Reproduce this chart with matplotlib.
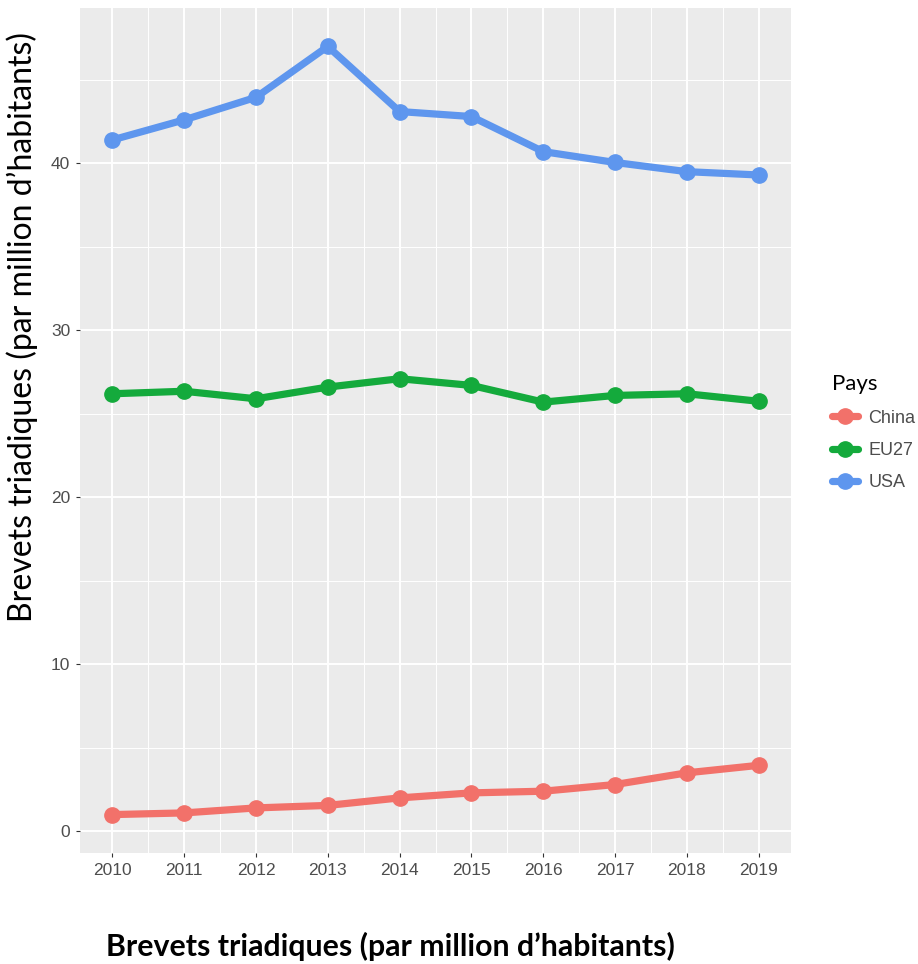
import matplotlib.pyplot as plt
import numpy as np

years = [2010, 2011, 2012, 2013, 2014, 2015, 2016, 2017, 2018, 2019]
y_china = [1.0, 1.1, 1.4, 1.55, 2.0, 2.3, 2.4, 2.8, 3.5, 3.95]
y_eu27 = [26.2, 26.35, 25.9, 26.6, 27.1, 26.7, 25.7, 26.1, 26.2, 25.75]
y_usa = [41.4, 42.6, 43.95, 47.0, 43.1, 42.8, 40.7, 40.05, 39.5, 39.3]
countries = ["China", "EU27", "USA"]
colors = ["#F2716A", "#14AA3C", "#5E96EE"]

fig = plt.figure(figsize=(9.18, 9.64), dpi=100)
ax = fig.add_axes([80 / 918, 1 - 853 / 964, 711 / 918, 845 / 964])
ax.set_facecolor("#EBEBEB")

for vals, name, c in zip([y_china, y_eu27, y_usa], countries, colors):
    ax.plot(years, vals, color=c, linewidth=5.2, marker="o",
            markersize=11, label=name, solid_capstyle="round")

# ggplot-like expansion (5%)
x0, x1 = min(years), max(years)
ax.set_xlim(x0 - 0.05 * (x1 - x0), x1 + 0.05 * (x1 - x0))
lo = min(y_china)
hi = max(y_usa)
ax.set_ylim(lo - 0.05 * (hi - lo), hi + 0.05 * (hi - lo))

ax.set_xticks(years)
ax.set_xticklabels([str(y) for y in years])
ax.set_xticks(np.array(years[:-1]) + 0.5, minor=True)
ax.set_yticks([0, 10, 20, 30, 40])
ax.set_yticks([5, 15, 25, 35, 45], minor=True)

ax.grid(which="major", color="white", linewidth=1.4)
ax.grid(which="minor", color="white", linewidth=0.7)
ax.set_axisbelow(True)
for s in ax.spines.values():
    s.set_visible(False)
ax.tick_params(which="major", length=3, color="#333333", labelcolor="#4D4D4D",
               labelsize=12.5, pad=4)
ax.tick_params(which="minor", length=0)
for lab in ax.get_xticklabels() + ax.get_yticklabels():
    lab.set_family("Liberation Sans")

fig.text(22 / 918, 1 - 327 / 964, "Brevets triadiques (par million d\u2019habitants)",
         rotation=90, ha="center", va="center", fontsize=23, family="Lato")
fig.text(390 / 918, 1 - 946 / 964, "Brevets triadiques (par million d\u2019habitants)",
         ha="center", va="center", fontsize=21.8, fontweight="bold", family="Lato")

leg = fig.legend(loc="upper left", bbox_to_anchor=(816 / 918, 1 - 358 / 964),
                 frameon=False, title="Pays", prop={"family": "Liberation Sans", "size": 13},
                 handlelength=1.4, labelspacing=0.85, handletextpad=0.6, alignment="left")
leg.get_title().set_family("Lato")
leg.get_title().set_fontsize(16)
for t in leg.get_texts():
    t.set_color("#4D4D4D")

plt.savefig("out.png", dpi=100)
